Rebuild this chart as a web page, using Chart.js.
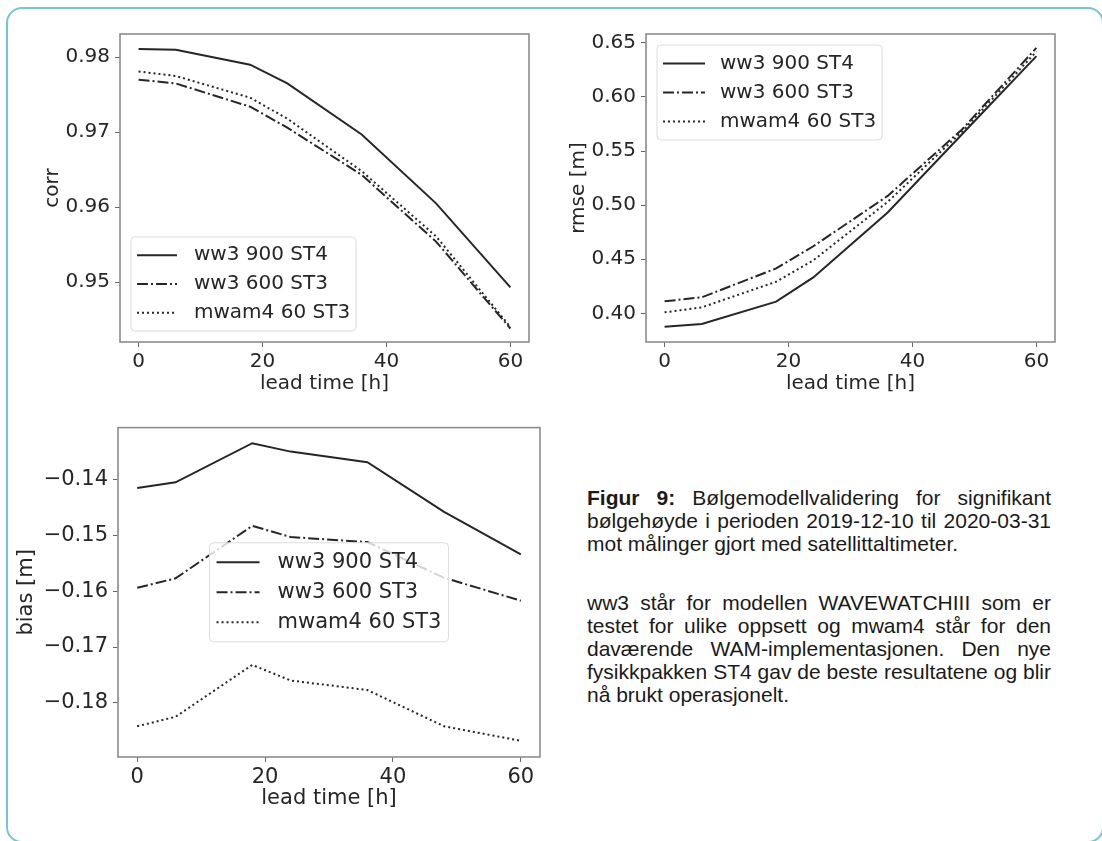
<!DOCTYPE html>
<html>
<head>
<meta charset="utf-8">
<script src="https://cdn.jsdelivr.net/npm/chart.js@4.4.0/dist/chart.umd.min.js"></script>
<style>
    html, body { margin: 0; padding: 0; background: #fff; }
    body { width: 1102px; height: 841px; position: relative; overflow: hidden; }
    .frame { position: absolute; left: 6px; top: 7px; width: 1098px; height: 836px;
             border: 2px solid #70c6da; border-radius: 16px; box-sizing: border-box; }
    canvas { position: absolute; }
    #corrChart { left: 0; top: 0; }
    #rmseChart { left: 540px; top: 0; }
    #biasChart { left: 0; top: 410px; }
    .caption { position: absolute; left: 587px; top: 486px; width: 464px;
               font-family: "Liberation Sans", Arial, sans-serif; font-size: 21px;
               line-height: 23px; color: #1a1a1a; }
    .caption p { margin: 0; }
    .caption p + p { margin-top: 36px; }
    .caption .j { display: block; text-align: justify; text-align-last: justify; }
    .caption .l { display: block; text-align: left; }
</style>
</head>
<body>
<div class="frame"></div>
<canvas id="corrChart" width="545" height="410"></canvas>
<canvas id="rmseChart" width="562" height="410"></canvas>
<canvas id="biasChart" width="560" height="431"></canvas>
<div class="caption">
    <p>
        <span class="j"><b>Figur 9:</b> Bølgemodellvalidering for signifikant</span>
        <span class="j">bølgehøyde i perioden 2019-12-10 til 2020-03-31</span>
        <span class="l">mot målinger gjort med satellittaltimeter.</span>
    </p>
    <p>
        <span class="j">ww3 står for modellen WAVEWATCHIII som er</span>
        <span class="j">testet for ulike oppsett og mwam4 står for den</span>
        <span class="j">daværende WAM-implementasjonen. Den nye</span>
        <span class="j">fysikkpakken ST4 gav de beste resultatene og blir</span>
        <span class="l">nå brukt operasjonelt.</span>
    </p>
</div>
<script>
// data
const leadTime = [0, 6, 18, 24, 36, 48, 60];
const leadTicks = [0, 20, 40, 60];
const seriesNames = ['ww3 900 ST4', 'ww3 600 ST3', 'mwam4 60 ST3'];

const corrWw3St4 = [0.9811, 0.9810, 0.9790, 0.9765, 0.9697, 0.9605, 0.9493];
const corrWw3St3 = [0.9770, 0.9765, 0.9734, 0.9706, 0.9643, 0.9554, 0.9438];
const corrMwam4 = [0.9781, 0.9775, 0.9746, 0.9718, 0.9648, 0.9561, 0.9440];
const corrTicks = [0.95, 0.96, 0.97, 0.98];

const rmseWw3St4 = [0.3877, 0.3902, 0.4108, 0.4332, 0.4932, 0.5655, 0.6377];
const rmseWw3St3 = [0.4111, 0.4148, 0.4415, 0.4620, 0.5085, 0.5700, 0.6454];
const rmseMwam4 = [0.4009, 0.4055, 0.4292, 0.4490, 0.5030, 0.5680, 0.6420];
const rmseTicks = [0.40, 0.45, 0.50, 0.55, 0.60, 0.65];

const biasWw3St4 = [-0.1415, -0.1405, -0.1335, -0.1350, -0.1369, -0.1458, -0.1534];
const biasWw3St3 = [-0.1594, -0.1577, -0.1483, -0.1503, -0.1512, -0.1576, -0.1617];
const biasMwam4 = [-0.1842, -0.1825, -0.1732, -0.1760, -0.1777, -0.1842, -0.1868];
const biasTicks = [-0.18, -0.17, -0.16, -0.15, -0.14];

Chart.defaults.font.family = '"DejaVu Sans", sans-serif';
Chart.defaults.color = '#222';

const ink = '#262626';
const dashes = [[], [11, 3, 2, 3], [2, 3]];

// matplotlib style box round the plot area
const boxFrame = {
    id: 'boxFrame',
    afterDraw(chart) {
        const {ctx, chartArea: a} = chart;
        ctx.save();
        ctx.strokeStyle = '#8c8c8c';
        ctx.lineWidth = 1.6;
        ctx.strokeRect(a.left, a.top, a.right - a.left, a.bottom - a.top);
        ctx.restore();
    }
};

// legend drawn inside the axes like matplotlib does
const insideLegend = {
    id: 'insideLegend',
    afterDatasetsDraw(chart, args, o) {
        const {ctx, chartArea: a} = chart;
        const sets = chart.data.datasets;
        ctx.save();
        ctx.font = o.size + 'px "DejaVu Sans"';
        const textW = Math.max(...sets.map(d => ctx.measureText(d.label).width));
        const w = o.padX * 2 + o.handle + o.gap + textW;
        const h = o.padY * 2 + o.row * sets.length;
        let x, y;
        if (o.loc === 'lower left') {
            x = a.left + o.inset; y = a.bottom - o.inset - h;
        } else if (o.loc === 'upper left') {
            x = a.left + o.inset; y = a.top + o.inset;
        } else {
            x = (a.left + a.right - w) / 2; y = (a.top + a.bottom - h) / 2;
        }
        ctx.beginPath();
        ctx.roundRect(x, y, w, h, 4);
        ctx.fillStyle = 'rgba(255,255,255,0.8)';
        ctx.fill();
        ctx.strokeStyle = '#dcdcdc';
        ctx.lineWidth = 1;
        ctx.stroke();
        sets.forEach((d, i) => {
            const cy = y + o.padY + o.row * (i + 0.5);
            ctx.beginPath();
            ctx.setLineDash(d.borderDash);
            ctx.strokeStyle = d.borderColor;
            ctx.lineWidth = d.borderWidth;
            ctx.moveTo(x + o.padX, cy);
            ctx.lineTo(x + o.padX + o.handle, cy);
            ctx.stroke();
            ctx.setLineDash([]);
            ctx.fillStyle = ink;
            ctx.textBaseline = 'middle';
            ctx.fillText(d.label, x + o.padX + o.handle + o.gap, cy);
        });
        ctx.restore();
    }
};

function makeSets(lists) {
    return lists.map((vals, i) => ({
        label: seriesNames[i],
        data: leadTime.map((t, k) => ({x: t, y: vals[k]})),
        borderColor: ink,
        borderWidth: 2,
        borderDash: dashes[i],
        pointRadius: 0,
        tension: 0,
        fill: false
    }));
}

function fmt(v) {
    return v.toFixed(2).replace('-', '\u2212');
}

function drawPanel(id, cfg) {
    const ctx = document.getElementById(id).getContext('2d');
    return new Chart(ctx, {
        type: 'line',
        data: {datasets: makeSets(cfg.series)},
        options: {
            responsive: false,
            animation: false,
            devicePixelRatio: 1,
            layout: {padding: {left: 0, top: cfg.padTop, right: cfg.padRight, bottom: 0}},
            plugins: {
                legend: {display: false},
                tooltip: {enabled: false},
                insideLegend: cfg.legend
            },
            scales: {
                x: {
                    type: 'linear',
                    min: -3,
                    max: 63,
                    afterBuildTicks: s => { s.ticks = leadTicks.map(v => ({value: v})); },
                    afterFit: s => { s.height = cfg.xHeight; },
                    grid: {drawOnChartArea: false, tickLength: 5, color: '#666'},
                    border: {display: false},
                    ticks: {padding: 3, maxRotation: 0, color: ink, font: {size: cfg.font},
                            callback: v => String(v)},
                    title: {display: true, text: 'lead time [h]', color: ink,
                            font: {size: cfg.font}, padding: {top: 0, bottom: cfg.xTitlePad}}
                },
                y: {
                    type: 'linear',
                    min: cfg.yMin,
                    max: cfg.yMax,
                    afterBuildTicks: s => { s.ticks = cfg.ticks.map(v => ({value: v})); },
                    afterFit: s => { s.width = cfg.yWidth; },
                    grid: {drawOnChartArea: false, tickLength: 5, color: '#666'},
                    border: {display: false},
                    ticks: {padding: 5, color: ink, font: {size: cfg.font}, callback: v => fmt(v)},
                    title: {display: true, text: cfg.yTitle, color: ink,
                            font: {size: cfg.font}, padding: {top: cfg.yTitlePad, bottom: 0}}
                }
            }
        },
        plugins: [boxFrame, insideLegend]
    });
}

drawPanel('corrChart', {
    series: [corrWw3St4, corrWw3St3, corrMwam4],
    ticks: corrTicks, yMin: 0.9420, yMax: 0.9831, yTitle: 'corr',
    font: 20, padTop: 34, padRight: 16, xHeight: 68, xTitlePad: 14, yWidth: 120, yTitlePad: 41,
    legend: {loc: 'lower left', inset: 11, size: 20, padX: 6, padY: 4, handle: 40, gap: 17, row: 28.7}
});

drawPanel('rmseChart', {
    series: [rmseWw3St4, rmseWw3St3, rmseMwam4],
    ticks: rmseTicks, yMin: 0.3735, yMax: 0.6582, yTitle: 'rmse [m]',
    font: 20, padTop: 34, padRight: 47, xHeight: 68, xTitlePad: 14, yWidth: 106, yTitlePad: 27,
    legend: {loc: 'upper left', inset: 11, size: 20, padX: 6, padY: 4, handle: 42, gap: 15, row: 29}
});

drawPanel('biasChart', {
    series: [biasWw3St4, biasWw3St3, biasMwam4],
    ticks: biasTicks, yMin: -0.1897, yMax: -0.1307, yTitle: 'bias [m]',
    font: 21, padTop: 16, padRight: 20, xHeight: 84, xTitlePad: 30, yWidth: 118, yTitlePad: 14,
    legend: {loc: 'center', inset: 0, size: 21, padX: 7, padY: 4.5, handle: 43, gap: 18, row: 30}
});
</script>
</body>
</html>
